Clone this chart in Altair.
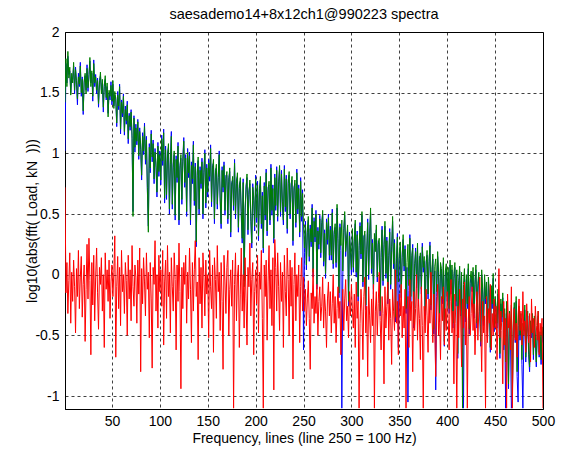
import altair as alt
import pandas as pd

# ---- data (log10 |FFT| per spectral line 1..500) ----
green = [
    1.42, 1.78, 1.55, 1.84, 1.62, 1.71, 1.48, 1.66, 1.58, 1.75, 1.52, 1.69, 1.60, 1.45, 1.63, 1.57, 1.72, 1.50, 1.61, 1.35, 1.58, 1.66, 1.49, 1.70, 1.54,
    1.62, 1.79, 1.55, 1.68, 1.47, 1.74, 1.58, 1.63, 1.52, 1.60, 1.41, 1.57, 1.67, 1.49, 1.61, 1.38, 1.55, 1.64, 1.46, 1.58, 1.30, 1.52, 1.47, 1.56, 1.43,
    1.60, 1.37, 1.51, 1.44, 1.25, 1.48, 1.39, 1.55, 1.20, 1.42, 1.33, 1.47, 1.18, 1.36, 1.27, 1.40, 1.12, 1.31, 1.22, 1.34, 1.15, 0.48, 1.29, 1.05, 1.21,
    1.10, 1.26, 0.98, 1.18, 1.07, 0.82, 1.14, 1.02, 1.22, 0.95, 1.11, 0.72, 0.35, 1.05, 0.88, 1.16, 0.97, 1.08, 0.79, 1.01, 0.92, 0.68, 1.06, 0.85, 0.99,
    0.78, 1.12, 0.94, 1.17, 0.63, 1.03, 0.66, 0.97, 1.08, 0.54, 0.91, 1.14, 0.58, 0.88, 1.02, 0.49, 0.95, 0.80, 1.06, 0.45, 0.87, 0.99, 0.62, 0.93, 1.10,
    0.76, 0.96, 0.52, 1.01, 0.84, 0.98, 0.45, 0.90, 0.79, 1.07, 0.61, 0.89, 0.27, 0.82, 0.97, 0.54, 0.86, 0.75, 0.93, 0.50, 0.84, 1.00, 0.59, 0.88, 0.68,
    0.92, 0.81, 1.04, 0.60, 0.87, 0.95, 0.46, 0.83, 0.91, 0.58, 0.80, 0.99, 0.64, 0.42, 0.86, 0.72, 0.90, 0.53, 0.79, 0.85, 0.46, 0.77, 0.88, 0.35, 0.73,
    0.81, 0.57, 0.92, 0.50, 0.75, 0.84, 0.39, 0.71, 0.80, 0.52, 0.30, 0.76, -0.10, 0.55, 0.70, 0.83, 0.37, 0.66, 0.78, 0.48, 0.26, 0.72, 0.64, 0.40, 0.79,
    0.47, 0.74, 0.32, 0.68, 0.81, 0.42, 0.65, 0.22, 0.73, 0.49, 0.84, 0.36, 0.69, 0.77, 0.45, 0.88, 0.53, 0.71, 0.30, 0.80, 0.57, 0.86, 0.48, 0.74, 0.90,
    0.52, 0.83, 0.60, 0.45, 0.87, 0.56, 0.79, 0.38, 0.75, 0.85, 0.50, 0.72, 0.81, 0.28, 0.69, 0.78, 0.43, 0.84, 0.54, 0.71, 0.35, 0.77, 0.48, 0.67, 0.40,
    0.22, 0.41, 0.08, 0.35, 0.48, 0.15, 0.38, 0.27, 0.55, 0.02, 0.44, 0.31, 0.50, -0.08, 0.36, 0.25, 0.46, 0.18, 0.40, 0.53, 0.11, 0.34, 0.01, 0.43, 0.29,
    0.47, 0.16, 0.37, 0.16, 0.51, 0.09, 0.33, 0.42, 0.10, 0.58, 0.30, -0.15, 0.39, 0.24, 0.45, 0.03, 0.35, 0.52, 0.19, 0.28, 0.41, -0.22, 0.32, 0.22, 0.04,
    0.38, 0.06, 0.27, 0.45, 0.02, 0.33, -0.18, 0.24, 0.40, 0.17, 0.52, -0.06, 0.29, 0.36, -0.25, 0.21, 0.43, 0.00, 0.31, 0.55, 0.05, 0.26, -0.12, 0.34, 0.19,
    0.41, -0.02, 0.25, 0.30, -0.30, 0.18, 0.37, -0.05, 0.22, 0.44, 0.01, 0.28, -0.20, 0.16, 0.35, -0.08, 0.20, 0.48, 0.09, 0.26, -0.35, 0.13, 0.31, -0.06, 0.17,
    0.27, -0.15, 0.14, 0.33, 0.07, 0.21, -0.28, 0.10, 0.25, -0.09, 0.30, -0.18, 0.16, 0.22, -0.40, 0.09, 0.19, -0.07, 0.26, -0.22, 0.12, 0.18, -0.12, 0.23, 0.06,
    0.15, -0.30, 0.08, 0.20, -0.16, 0.11, 0.24, -0.25, 0.04, 0.17, -0.45, 0.07, 0.13, -0.14, 0.19, 0.02, -0.35, 0.10, 0.05, -0.20, 0.14, -0.55, 0.03, 0.09, -0.18,
    0.06, -0.28, 0.12, -0.12, 0.08, -0.40, 0.01, 0.10, -0.22, 0.04, -0.65, -0.05, 0.07, -0.30, 0.02, -1.10, -0.08, 0.05, -0.35, 0.00, -0.24, 0.09, -0.45, -0.03, 0.03,
    -0.10, 0.06, -0.32, -0.04, 0.08, -0.40, -0.07, 0.02, -0.26, -0.55, 0.04, -0.12, -0.38, 0.00, -0.20, -0.06, -0.48, -0.02, -0.15, -0.60, -0.09, -0.24, 0.01, -0.43, -0.18,
    -0.26, -0.40, -0.12, -0.30, -0.65, -0.20, -0.35, -0.15, -0.58, -0.28, -0.72, -0.22, -0.38, -0.90, -0.30, -0.45, -0.25, -1.00, -0.40, -0.23, -0.52, -0.18, -0.80, -0.42, -0.26,
    -0.50, -0.32, -0.70, -0.40, -0.46, -0.25, -0.68, -0.44, -0.30, -0.62, -0.76, -0.38, -0.48, -0.32, -0.66, -0.34, -0.50, -0.72, -0.45, -0.30, -0.64, -0.47, -0.70, -0.43, -0.52,
]

blue = [
    1.02, 1.74, 1.58, 1.80, 1.65, 1.68, 1.50, 1.62, 1.61, 1.72, 1.49, 1.71, 1.57, 1.40, 1.66, 1.55, 1.75, 1.47, 1.63, 1.32, 1.60, 1.64, 1.52, 1.73, 1.51,
    1.65, 1.76, 1.58, 1.66, 1.43, 1.77, 1.55, 1.65, 1.49, 1.62, 1.38, 1.60, 1.64, 1.52, 1.58, 1.34, 1.57, 1.61, 1.44, 1.55, 1.33, 1.50, 1.44, 1.59, 1.40,
    1.57, 1.39, 1.48, 1.46, 1.22, 1.51, 1.36, 1.57, 1.16, 1.44, 1.30, 1.49, 1.15, 1.39, 1.24, 1.43, 1.08, 1.33, 1.19, 1.36, 1.12, 0.52, 1.31, 1.01, 1.24,
    1.07, 1.28, 0.95, 1.21, 1.03, 0.78, 1.17, 0.99, 1.25, 0.91, 1.14, 0.69, 0.40, 1.08, 0.84, 1.19, 0.93, 1.11, 0.75, 1.04, 0.88, 0.64, 1.09, 0.81, 1.02,
    0.74, 1.15, 0.90, 1.20, 0.59, 1.06, 0.62, 1.00, 1.05, 0.50, 0.94, 1.18, 0.54, 0.91, 0.99, 0.45, 0.98, 0.76, 1.09, 0.41, 0.90, 0.96, 0.58, 0.96, 1.13,
    0.72, 0.99, 0.48, 1.04, 0.80, 1.01, 0.41, 0.93, 0.75, 1.10, 0.57, 0.92, 0.23, 0.85, 0.94, 0.50, 0.89, 0.71, 0.96, 0.46, 0.87, 1.03, 0.55, 0.91, 0.64,
    0.95, 0.77, 1.07, 0.56, 0.90, 0.92, 0.42, 0.86, 0.88, 0.54, 0.83, 1.02, 0.60, 0.38, 0.89, 0.68, 0.93, 0.49, 0.82, 0.82, 0.42, 0.80, 0.85, 0.31, 0.76,
    0.78, 0.53, 0.95, 0.46, 0.78, 0.81, 0.35, 0.74, 0.77, 0.48, 0.26, 0.79, -0.05, 0.51, 0.73, 0.80, 0.33, 0.69, 0.75, 0.44, 0.22, 0.75, 0.61, 0.36, 0.82,
    0.43, 0.77, 0.28, 0.71, 0.78, 0.38, 0.68, 0.18, 0.76, 0.45, 0.87, 0.32, 0.72, 0.74, 0.41, 0.91, 0.49, 0.74, 0.26, 0.83, 0.53, 0.89, 0.44, 0.77, 0.87,
    0.48, 0.86, 0.56, 0.41, 0.90, 0.52, 0.82, 0.34, 0.78, 0.82, 0.46, 0.75, 0.78, 0.24, 0.72, 0.75, 0.39, 0.87, 0.50, 0.74, 0.31, 0.80, 0.44, 0.70, -0.62,
    0.18, 0.44, 0.04, 0.38, 0.45, 0.11, 0.41, 0.23, 0.58, -0.02, 0.47, 0.27, 0.53, -0.12, 0.39, 0.21, 0.49, 0.14, 0.43, 0.50, 0.07, 0.37, -0.03, 0.46, 0.25,
    0.50, 0.12, 0.40, 0.12, 0.54, 0.05, 0.36, 0.39, 0.06, 0.55, 0.26, -0.19, 0.42, 0.20, -1.10, -0.01, 0.38, 0.49, 0.15, 0.31, 0.37, -0.26, 0.35, 0.18, 0.00,
    0.34, 0.02, 0.30, 0.42, -0.02, 0.36, -0.22, 0.20, 0.43, 0.13, 0.49, -0.10, 0.32, 0.33, -0.29, 0.17, 0.46, -0.04, 0.34, 0.51, 0.01, 0.29, -0.16, 0.30, 0.22,
    0.37, -0.06, 0.28, 0.26, -0.34, 0.14, 0.40, -0.09, 0.25, 0.40, -0.03, 0.31, -0.24, 0.12, 0.38, -0.12, 0.23, 0.44, 0.05, 0.29, -0.39, 0.09, 0.34, -0.60, 0.13,
    0.23, -0.19, 0.17, 0.29, 0.03, 0.24, -0.32, 0.06, -1.05, -0.13, 0.33, -0.22, 0.12, 0.25, -0.44, 0.05, 0.22, -0.11, 0.22, -0.26, 0.15, 0.14, -0.16, 0.26, 0.02,
    0.11, -0.34, 0.11, 0.16, -0.20, 0.07, 0.27, -0.29, 0.00, 0.13, -0.49, 0.03, -0.95, -0.18, 0.15, -0.02, -0.39, 0.06, 0.01, -0.24, 0.10, -0.59, -0.01, 0.05, -0.22,
    0.02, -0.32, 0.08, -0.16, 0.04, -0.44, -0.03, 0.06, -0.26, 0.00, -0.69, -0.09, 0.03, -0.34, -0.02, -0.60, -1.10, 0.01, -0.39, -0.04, -0.28, 0.05, -0.49, -0.07, -0.01,
    -0.14, 0.02, -0.36, -0.08, 0.04, -0.44, -0.11, -0.02, -0.30, -0.59, 0.00, -0.16, -0.42, -0.04, -0.24, -0.10, -0.52, -0.06, -0.19, -0.64, -0.13, -0.28, -0.03, -0.47, -0.22,
    -0.30, -0.44, -0.16, -0.34, -0.69, -0.24, -0.39, -0.19, -0.62, -0.32, -1.10, -0.26, -0.42, -0.94, -0.34, -0.49, -1.10, -1.04, -0.44, -0.27, -0.56, -0.22, -0.84, -1.05, -0.30,
    -0.54, -0.36, -0.74, -1.10, -0.50, -0.29, -0.72, -0.48, -0.34, -0.66, -0.80, -0.42, -0.52, -0.36, -0.70, -0.38, -0.54, -0.76, -0.49, -0.34, -0.68, -0.51, -0.74, -0.47, -0.56,
]

red = [
    0.72, -0.15, 0.10, -0.32, -0.05, 0.18, -0.40, 0.02, -0.22, 0.12, -0.10, -0.48, 0.05, -0.18, 0.20, -0.28, -0.02, 0.15, -0.35, -0.08, 0.08, -0.55, -0.12, 0.25, -0.20,
    0.30, -0.05, -0.66, 0.10, -0.25, 0.16, -0.38, -0.02, 0.22, -0.15, -0.45, 0.06, -0.08, 0.14, -0.30, 0.00, -0.60, 0.18, -0.12, 0.04, -0.22, 0.12, -0.36, -0.06, 0.08,
    -0.18, 0.02, 0.32, -0.68, -0.10, 0.15, -0.28, 0.06, -0.42, 0.20, -0.14, 0.00, -0.32, 0.10, -0.05, -0.50, 0.16, -0.20, 0.04, -0.38, 0.24, -0.10, -0.26, 0.08, -0.02,
    -0.40, 0.12, -0.16, 0.22, -0.80, 0.05, -0.24, 0.14, -0.06, -0.34, 0.18, -0.12, 0.02, -0.52, 0.10, -0.20, -0.77, 0.06, -0.08, 0.28, -0.30, 0.00, -0.44, 0.16, -0.14,
    0.04, -0.26, 0.20, -0.58, -0.06, 0.12, -0.36, 0.24, -0.18, 0.02, -0.48, 0.14, -0.10, -0.30, 0.18, -0.04, -0.62, 0.08, -0.22, 0.26, -0.14, -0.94, 0.06, -0.28, 0.10,
    -0.08, 0.16, -0.40, 0.02, -0.20, 0.22, -0.12, -0.56, 0.10, -0.30, 0.04, 0.28, -0.18, -0.06, -0.70, 0.14, -0.24, 0.06, -0.44, 0.18, -0.02, -0.34, 0.12, -0.16, 0.00,
    -0.52, 0.20, -0.10, -0.28, 0.08, -0.64, 0.14, -0.04, -0.36, 0.24, -0.14, 0.02, -0.46, 0.10, -0.22, -0.78, 0.16, -0.06, -0.32, 0.06, 0.20, -0.50, -0.12, 0.04, -0.26,
    0.12, -1.10, -0.08, 0.18, -0.38, -0.02, 0.08, -0.60, -0.16, 0.22, -0.30, 0.00, -0.44, 0.14, -0.20, -0.58, 0.06, -0.10, 0.26, -0.34, -0.04, 0.10, -0.66, -0.14, 0.04,
    -0.24, 0.16, -0.48, 0.02, -0.12, 0.20, -0.36, -1.10, 0.08, -0.18, 0.12, -0.54, -0.06, 0.24, -0.28, 0.04, -0.42, 0.14, -0.95, 0.29, 0.06, -0.30, 0.18, -0.10, -0.46,
    0.10, -0.22, 0.02, -0.60, 0.16, -0.14, -0.34, 0.22, -0.04, -0.50, 0.12, -0.26, 0.06, -0.86, -0.08, 0.18, -0.38, 0.00, -0.18, 0.08, -0.56, -0.10, 0.14, -0.30, -0.02,
    -0.30, -0.12, -0.42, -0.20, -0.05, -0.36, -0.78, -0.15, -0.28, 0.05, -0.40, -0.18, -0.32, -0.08, -0.50, -0.22, -0.10, -0.38, -0.26, -0.02, -0.44, -0.16, -0.30, -0.60, -0.20,
    -0.06, -0.34, -0.14, -0.48, -0.24, 0.00, -0.40, -0.18, -0.56, -0.28, -0.10, -0.36, -0.22, -0.66, -0.30, -0.12, -0.46, -0.20, -0.04, -0.38, -0.26, -0.52, -0.14, -0.34, -0.08,
    -0.28, -0.44, -0.16, -0.60, -0.06, -0.36, -0.22, -1.10, -0.40, -0.12, -0.30, -0.70, -0.18, -0.02, -0.48, -0.26, -0.84, -0.10, -0.34, -0.56, -0.20, -0.42, -0.08, -1.10, -0.30,
    -0.14, -0.50, -0.24, 0.02, -0.38, -0.62, -0.18, -0.32, -0.90, -0.10, -0.44, -0.26, -0.06, -0.54, -0.20, -0.36, -0.74, -0.12, -0.30, -0.46, 0.04, -0.40, -0.22, -0.66, -0.16,
    -0.34, -0.08, -0.52, -0.26, -0.44, -0.12, -1.10, -0.30, -0.18, -0.60, -0.04, -0.38, -0.22, -0.80, -0.14, -0.46, -0.28, 0.00, -0.54, -0.20, -0.36, -0.70, -0.10, -0.42, -1.10,
    -0.26, -0.48, -0.12, -0.34, -0.64, -0.20, -0.40, 0.02, -0.30, -0.56, -0.16, -0.44, -0.84, -0.24, -0.08, -0.50, -0.32, -0.70, -0.18, -0.38, -0.10, -0.58, -0.28, -0.46, -0.14,
    -0.36, -0.62, -0.22, -0.04, -0.48, -0.30, -0.90, -0.16, -0.40, -1.10, -0.26, -0.52, -0.12, -0.34, -0.76, -0.20, -0.44, -0.06, -0.58, -0.28, -1.10, -0.38, -0.18, -0.50, -0.32,
    -0.10, -0.46, -0.24, -0.66, -0.36, -0.14, -0.54, -0.30, -0.02, -0.42, -0.80, -0.22, -0.48, -0.34, -1.10, -0.18, -0.56, -0.28, -0.40, -0.08, -0.62, -0.32, -0.50, -0.20, -0.44,
    -0.26, -0.70, -0.38, 0.05, -0.52, -0.30, -0.46, -0.90, -0.22, -0.58, -0.36, -1.10, -0.16, -0.44, -0.32, -0.62, -0.10, -1.10, -0.48, -0.28, -0.54, -0.40, -0.68, -0.34, -0.20,
    -0.46, -0.30, -0.58, -0.14, -0.50, -0.38, -0.64, -0.24, -0.44, -0.56, -0.32, -0.72, -0.20, -0.48, -0.36, -0.60, -0.26, -0.42, -0.54, -0.30, -0.66, -0.40, -0.50, -0.36, -1.10,
]

x_ticks = [50, 100, 150, 200, 250, 300, 350, 400, 450, 500]
y_ticks = [-1, -0.5, 0, 0.5, 1, 1.5, 2]

TITLE = "saesademo14+8x12ch1@990223 spectra"
X_TITLE = "Frequency, lines (line 250 = 100 Hz)"
Y_TITLE = "log10(abs(fft(\u00a0Load,\u00a0kN\u00a0\u00a0)))"

FONT = "Liberation Sans"


def frame(vals):
    return pd.DataFrame({"line": list(range(1, len(vals) + 1)), "value": vals})


xscale = alt.Scale(domain=[1, 500], nice=False, zero=False)
yscale = alt.Scale(domain=[-1.107, 2], nice=False, zero=False)

xaxis = alt.Axis(
    values=x_ticks, title=X_TITLE, grid=True, ticks=False, labelPadding=5,
    titlePadding=3, labelFlush=False, labelOverlap=False,
)
yaxis = alt.Axis(
    values=y_ticks, title=Y_TITLE, grid=True, ticks=False, labelPadding=6,
    titlePadding=-5, labelExpr="'' + datum.value", labelOverlap=False,
)


def series(vals, color):
    return alt.Chart(frame(vals)).mark_line(
        color=color, strokeWidth=1, clip=True
    ).encode(
        x=alt.X("line:Q", scale=xscale, axis=xaxis),
        y=alt.Y("value:Q", scale=yscale, axis=yaxis),
    )


chart = (
    alt.layer(
        series(blue, "#0000ff"),
        series(green, "#008000"),
        series(red, "#ff0000"),
    )
    .properties(
        width=478,
        height=377,
        title=alt.TitleParams(TITLE, anchor="middle", fontSize=14.5, font=FONT,
                              fontWeight="normal", color="#000", offset=3),
        padding={"left": 65, "top": 32, "right": 25, "bottom": 44},
        autosize=alt.AutoSizeParams(type="none"),
        background="white",
    )
    .configure_view(stroke="#000", strokeWidth=1)
    .configure_axis(
        labelFont=FONT, titleFont=FONT, labelFontSize=14, titleFontSize=14,
        labelColor="#000", titleColor="#000", titleFontWeight="normal",
        domainColor="#000", gridColor="#000", gridOpacity=0.75,
        gridDash=[3, 3], gridWidth=1,
    )
)

chart.save("out.html", embed_options={"renderer": "svg", "actions": False})
